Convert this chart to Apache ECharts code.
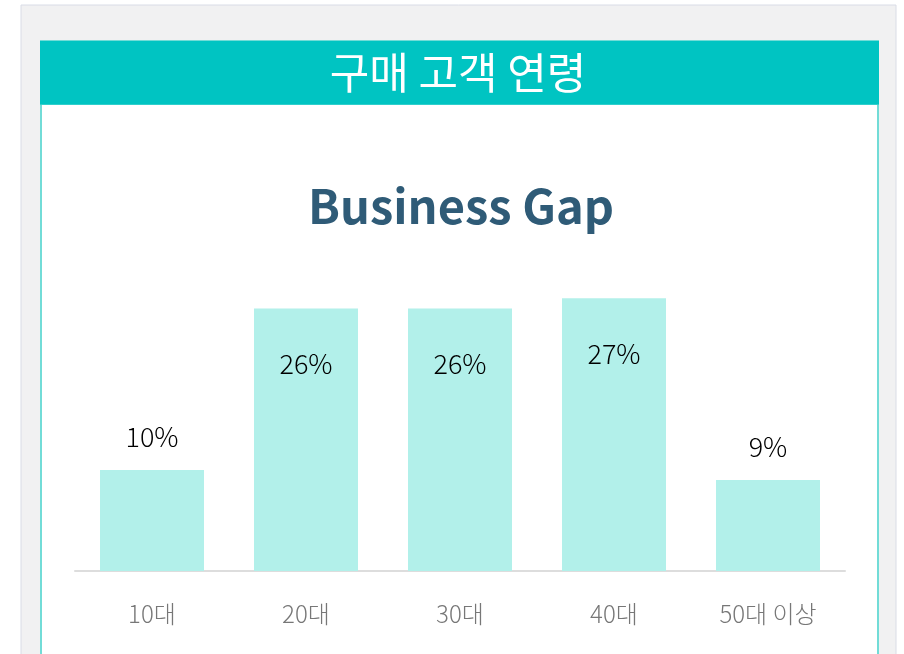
<!DOCTYPE html>
<html>
<head>
<meta charset="utf-8">
<title>구매 고객 연령</title>
<script src="https://cdn.jsdelivr.net/npm/echarts@6/dist/echarts.min.js"></script>
<style>
  html, body { margin: 0; padding: 0; background: #fff; }
  #chart { width: 904px; height: 654px; }
</style>
</head>
<body>
<div id="chart"></div>
<script>
var categories = ['10대', '20대', '30대', '40대', '50대 이상'];
var shares = [10, 26, 26, 27, 9];
var headerTitle = '구매 고객 연령';
var chartTitle = 'Business Gap';

var myChart = echarts.init(document.getElementById('chart'));

var barData = shares.map(function (v) {
    // 큰 막대는 안쪽 위, 작은 막대는 바깥 위에 라벨
    var inside = v > 15;
    return {
        value: v,
        label: {
            position: inside ? 'insideTop' : 'top',
            distance: inside ? 42 : 20
        }
    };
});

option = {
    animation: false,
    graphic: [
        { type: 'rect', z: -10, shape: { x: 21, y: 5, width: 875, height: 660 },
          style: { fill: '#f1f1f2', stroke: '#d9dce6', lineWidth: 1 } },
        { type: 'rect', z: -9, shape: { x: 41, y: 41, width: 837, height: 640 },
          style: { fill: '#ffffff', stroke: '#72dcd7', lineWidth: 2 } },
        { type: 'rect', z: -8, shape: { x: 40, y: 41, width: 839, height: 64 },
          style: { fill: '#00c4c2' } },
        { type: 'rect', z: -8, shape: { x: 40, y: 104, width: 839, height: 1 },
          style: { fill: '#30cfcc' } },
        { type: 'text', z: 5,
          style: {
              text: headerTitle, x: 458, y: 73,
              align: 'center', verticalAlign: 'middle',
              fill: '#ffffff', font: 'normal 43px "Noto Sans CJK KR"',
              shadowColor: 'rgba(0,0,0,0.35)', shadowBlur: 2, shadowOffsetX: 1, shadowOffsetY: 1
          } }
    ],
    title: {
        text: chartTitle,
        left: 456,
        top: 178,
        textAlign: 'center',
        textStyle: {
            fontFamily: 'Noto Sans CJK KR',
            fontWeight: 'bold',
            fontSize: 47,
            color: '#2f5b77'
        }
    },
    grid: { left: 75, right: 59, top: 268, bottom: 83 },
    xAxis: {
        type: 'category',
        data: categories,
        axisLine: { lineStyle: { color: '#dddddd', width: 2 } },
        axisTick: { show: false },
        axisLabel: {
            margin: 31,
            fontFamily: 'Noto Sans CJK KR',
            fontWeight: 300,
            fontSize: 24,
            color: '#777777'
        }
    },
    yAxis: {
        type: 'value',
        min: 0,
        max: 30,
        show: false
    },
    series: [{
        name: headerTitle,
        type: 'bar',
        barWidth: 104,
        itemStyle: { color: '#b2f0ea' },
        label: {
            show: true,
            formatter: '{c}%',
            fontFamily: 'Noto Sans CJK KR',
            fontWeight: 300,
            fontSize: 27,
            color: '#000000'
        },
        data: barData
    }]
};
myChart.setOption(option);
</script>
</body>
</html>
